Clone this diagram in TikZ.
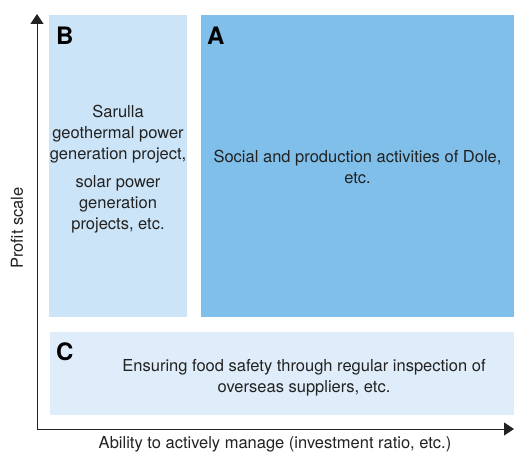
\documentclass[tikz,border=0pt]{standalone}
\usepackage{fontspec}
\setmainfont{TeX Gyre Heros}
\usetikzlibrary{
    positioning,
    arrows.meta,
}

\definecolor{strongblue}{HTML}{80BFEA}
\definecolor{paleblue}{HTML}{CCE4F7}
\definecolor{mistblue}{HTML}{DFEDFA}
\definecolor{inkgray}{HTML}{222222}

\tikzset{
    quadrant/.style={rectangle, inner sep=0pt, outer sep=0pt, anchor=north west},
    letter/.style={inner sep=0pt, text=black, font=\fontsize{24}{24}\selectfont\bfseries},
    blurb/.style={inner sep=0pt, align=center, text=inkgray, font=\fontsize{16.5}{21.3}\selectfont},
    axislabel/.style={inner sep=0pt, text=inkgray, font=\fontsize{16.5}{20}\selectfont},
    axis/.style={draw=inkgray, line width=1pt, line join=miter},
}

\begin{document}
\begin{tikzpicture}[x=1pt, y=-1pt]
    \useasboundingbox (0,0) rectangle (514,452);

    \node[quadrant, fill=paleblue, minimum width=138pt, minimum height=302pt] (quadB) at (49,15) {};
    \node[quadrant, fill=strongblue, minimum width=313pt, minimum height=302pt, right=14pt of quadB] (quadA) {};
    \node[quadrant, fill=mistblue, minimum width=464pt, minimum height=83pt, below=15pt of quadB.south west, anchor=north west, xshift=1pt] (quadC) {};

    \node[letter, below right=12pt and 7pt of quadB.north west] (labelB) {B};
    \node[letter, below right=12pt and 6pt of quadA.north west] (labelA) {A};
    \node[letter, below right=11pt and 6pt of quadC.north west] (labelC) {C};

    \node[blurb, yshift=-3pt] (textB) at (quadB) {Sarulla\\geothermal power\\generation project,\\[6pt]solar power\\generation\\projects, etc.};
    \node[blurb, yshift=-1pt] (textA) at (quadA) {Social and production activities of Dole,\\etc.};
    \node[blurb, xshift=22pt, yshift=-4pt] (textC) at (quadC) {Ensuring food safety through regular inspection of\\overseas suppliers, etc.};

    % axes
    \coordinate (origin) at (37,429);
    \coordinate (ytip) at (37,14);
    \coordinate (xtip) at (514,429);
    \draw[axis, {Triangle[length=10pt, width=13pt]}-{Triangle[length=10pt, width=13pt]}] (ytip) -- (origin) -- (xtip);

    \node[axislabel, anchor=base] (xlabel) at (275,448) {Ability to actively manage (investment ratio, etc.)};
    \node[axislabel, rotate=90] (ylabel) at (17,228) {Profit scale};

\end{tikzpicture}
\end{document}
